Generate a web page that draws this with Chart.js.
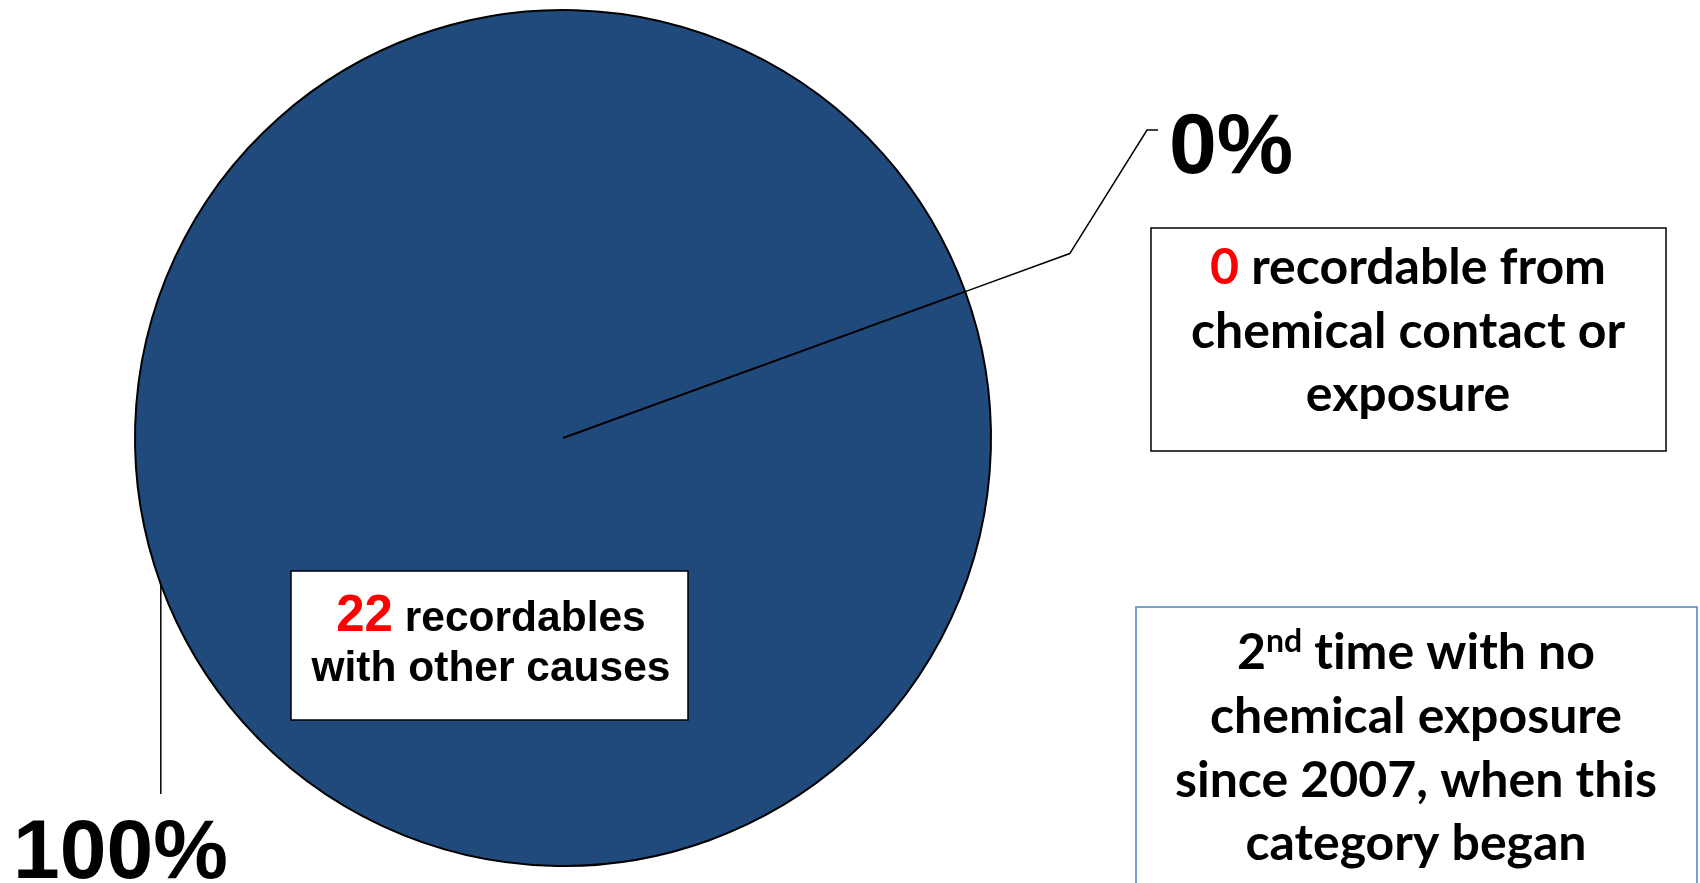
<!DOCTYPE html>
<html>
<head>
<meta charset="utf-8">
<script src="https://cdn.jsdelivr.net/npm/chart.js@4/dist/chart.umd.min.js"></script>
<style>
  html, body { margin: 0; padding: 0; background: #fff; }
  #wrap { width: 1700px; height: 883px; }
</style>
</head>
<body>
<div id="wrap"><canvas id="recordablesPie" width="1700" height="883"></canvas></div>
<script>
// Recordables by cause
const categories = ['Other causes', 'Chemical contact or exposure'];
const recordables = [22, 0];
const sliceColors = ['#214A7C', '#C0504D'];

const ARIAL = '"Liberation Sans", Arial, sans-serif';
const CALIBRI = 'Lato, "Open Sans", sans-serif';

function pct(i) {
    const total = recordables.reduce((a, b) => a + b, 0);
    return Math.round(recordables[i] / total * 100) + '%';
}

// draw one centred line built from several text pieces
function richLine(ctx, cx, baseline, parts) {
    let w = 0;
    parts.forEach(p => {
        ctx.font = 'bold ' + p.size + 'px ' + p.family;
        p.w = ctx.measureText(p.text).width;
        w += p.w;
    });
    let x = cx - w / 2;
    ctx.textAlign = 'left';
    ctx.textBaseline = 'alphabetic';
    parts.forEach(p => {
        ctx.font = 'bold ' + p.size + 'px ' + p.family;
        ctx.fillStyle = p.color || '#000';
        ctx.fillText(p.text, x, baseline - (p.rise || 0));
        x += p.w;
    });
}

const calloutPlugin = {
    id: 'callouts',
    afterDraw(chart) {
        const ctx = chart.ctx;
        const meta = chart.getDatasetMeta(0);
        const big = meta.data[0];
        const zero = meta.data[1];
        const cx = big.x, cy = big.y, R = big.outerRadius;
        ctx.save();
        ctx.strokeStyle = '#000';
        ctx.lineWidth = 1.5;

        // leader for the 0% slice
        const a0 = zero.startAngle;
        const ex = cx + Math.cos(a0) * R * 1.26;
        const ey = cy + Math.sin(a0) * R * 1.26;
        ctx.beginPath();
        ctx.moveTo(cx + Math.cos(a0) * R, cy + Math.sin(a0) * R);
        ctx.lineTo(ex, ey);
        ctx.lineTo(1147, 130);
        ctx.lineTo(1158, 130);
        ctx.stroke();

        // leader for the 100% slice
        const am = (big.startAngle + big.endAngle) / 2;
        const px = cx + Math.cos(am) * R;
        const py = cy + Math.sin(am) * R;
        ctx.beginPath();
        ctx.moveTo(px, py);
        ctx.lineTo(px, 794);
        ctx.stroke();

        // percentage labels
        ctx.fillStyle = '#000';
        ctx.textAlign = 'left';
        ctx.textBaseline = 'alphabetic';
        ctx.font = 'bold 86px ' + ARIAL;
        ctx.fillText(pct(1), 1169, 173);
        ctx.font = 'bold 84px ' + ARIAL;
        ctx.fillText(pct(0), 13, 878);

        // box inside the pie
        ctx.fillStyle = '#fff';
        ctx.fillRect(291, 571, 397, 149);
        ctx.strokeRect(291, 571, 397, 149);
        richLine(ctx, 491, 631, [
            {text: String(recordables[0]), size: 51, family: ARIAL, color: '#FF0000'},
            {text: ' recordables', size: 42.5, family: ARIAL}
        ]);
        richLine(ctx, 491, 681, [{text: 'with other causes', size: 42.5, family: ARIAL}]);

        // box for the chemical category
        ctx.fillStyle = '#fff';
        ctx.fillRect(1151, 228, 515, 223);
        ctx.strokeRect(1151, 228, 515, 223);
        richLine(ctx, 1408, 284, [
            {text: String(recordables[1]), size: 50, family: CALIBRI, color: '#FF0000'},
            {text: ' recordable from', size: 50, family: CALIBRI}
        ]);
        richLine(ctx, 1408, 348, [{text: 'chemical contact or', size: 50, family: CALIBRI}]);
        richLine(ctx, 1408, 411, [{text: 'exposure', size: 50, family: CALIBRI}]);

        // note box
        ctx.strokeStyle = '#4F81BD';
        ctx.strokeRect(1136, 607, 561, 300);
        richLine(ctx, 1416, 669, [
            {text: '2', size: 50, family: CALIBRI},
            {text: 'nd', size: 32, family: CALIBRI, rise: 17},
            {text: ' t\u200Cime with no', size: 50, family: CALIBRI}
        ]);
        richLine(ctx, 1416, 733, [{text: 'chemical exposure', size: 50, family: CALIBRI}]);
        richLine(ctx, 1416, 797, [{text: 'since 2007, when this', size: 50, family: CALIBRI}]);
        richLine(ctx, 1416, 860, [{text: 'category began', size: 50, family: CALIBRI}]);
        ctx.restore();
    }
};

new Chart(document.getElementById('recordablesPie'), {
    type: 'pie',
    data: {
        labels: categories,
        datasets: [{
            data: recordables,
            backgroundColor: sliceColors,
            borderColor: '#000',
            borderWidth: 2
        }]
    },
    options: {
        responsive: false,
        animation: false,
        rotation: 70,
        layout: { padding: { left: 134, top: 9, right: 708, bottom: 16 } },
        plugins: {
            legend: { display: false },
            tooltip: { enabled: false }
        }
    },
    plugins: [calloutPlugin]
});
</script>
</body>
</html>
